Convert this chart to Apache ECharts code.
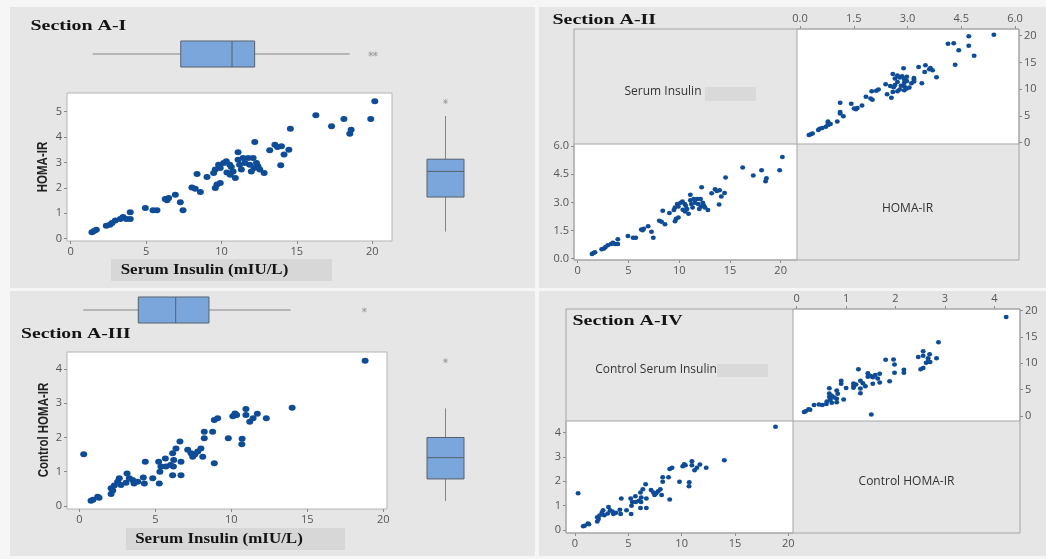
<!DOCTYPE html>
<html><head><meta charset="utf-8">
<script src="https://cdn.jsdelivr.net/npm/echarts@6/dist/echarts.min.js"></script>
<style>
html,body{margin:0;padding:0;background:#f6f6f6;}
.p{position:absolute;background:#e6e6e6;}
#c{position:absolute;left:0;top:0;width:1046px;height:559px;}
</style>
</head><body>
<div class="p" style="left:10px;top:7px;width:525px;height:281px"></div>
<div class="p" style="left:539px;top:7px;width:507px;height:281px"></div>
<div class="p" style="left:10px;top:291px;width:525px;height:265px"></div>
<div class="p" style="left:539px;top:291px;width:507px;height:265px"></div>
<div id="c"></div>
<script>
// ---------------- DATA ----------------
// Section A: [Serum Insulin (mIU/L), HOMA-IR]
const groupA = [[1.41,0.25],[1.55,0.30],[1.70,0.35],[2.36,0.51],[2.6,0.55],[2.74,0.62],[2.96,0.72],[3.29,0.78],[3.47,0.85],[3.69,0.78],[3.95,0.78],[3.95,1.04],[4.95,1.21],[5.46,1.12],[5.72,1.12],[6.27,1.56],[6.39,1.51],[6.5,1.6],[6.94,1.73],[7.27,1.43],[7.45,1.12],[8.04,2.02],[8.26,1.97],[8.38,2.55],[8.6,1.84],[9.04,2.43],[9.59,2.0],[9.7,2.13],[9.92,2.19],[9.48,2.59],[9.59,2.72],[9.81,2.91],[9.92,2.78],[10.14,2.98],[10.32,3.05],[10.36,2.61],[10.58,2.52],[10.55,2.91],[10.65,2.82],[10.77,2.65],[10.92,2.39],[11.1,3.40],[11.1,3.11],[11.2,2.91],[11.32,2.72],[11.43,3.18],[11.55,2.98],[11.77,3.18],[11.87,2.91],[11.98,2.65],[12.1,3.18],[12.16,2.78],[12.21,3.81],[12.32,2.98],[12.42,2.85],[12.54,2.72],[12.83,2.59],[13.2,3.48],[13.54,3.7],[13.71,3.61],[13.93,2.89],[13.98,3.64],[14.15,3.31],[14.47,3.5],[14.57,4.33],[16.26,4.86],[17.3,4.43],[18.12,4.71],[18.51,4.13],[18.6,4.29],[19.9,4.71],[20.17,5.41]];
// Control: [Serum Insulin (mIU/L), Control HOMA-IR]
const groupC = [[0.29,1.51],[0.77,0.15],[0.9,0.18],[1.21,0.27],[1.3,0.24],[2.09,0.35],[2.09,0.52],[2.2,0.45],[2.3,0.6],[2.52,0.71],[2.63,0.81],[2.74,0.61],[3.07,0.68],[3.14,0.95],[3.29,0.81],[3.51,0.76],[3.6,0.66],[3.84,0.71],[4.21,0.83],[4.28,0.66],[4.34,1.29],[4.83,0.81],[5.22,1.29],[5.26,0.66],[5.3,1.0],[5.37,1.15],[5.66,1.39],[5.7,1.15],[6.0,1.2],[6.14,1.54],[6.14,0.9],[6.19,1.15],[6.21,1.34],[6.36,1.68],[6.62,1.88],[6.69,1.29],[6.69,0.9],[7.13,1.64],[7.35,1.54],[7.46,1.44],[7.6,1.5],[7.79,1.59],[8.0,1.68],[8.12,1.44],[8.22,2.17],[8.22,1.98],[8.77,2.17],[8.88,2.51],[8.88,1.25],[9.1,2.56],[9.8,1.98],[10.1,2.62],[10.24,2.7],[10.35,2.66],[10.69,1.8],[10.71,1.96],[10.96,2.83],[10.96,2.66],[11.21,2.46],[11.43,2.56],[11.71,2.69],[12.3,2.56],[14.0,2.87],[18.8,4.24]];
// Box plot summaries [whisker low, Q1, median, Q3, whisker high] and outliers
const boxInsulinA = [1.45, 7.3, 10.7, 12.2, 18.5];
const outInsulinA = [19.9, 20.2];
const boxHomaA = [0.28, 1.64, 2.65, 3.13, 4.83];
const outHomaA = [5.4];
const boxInsulinC = [0.26, 3.88, 6.34, 8.53, 13.9];
const outInsulinC = [18.75];
const boxHomaC = [0.15, 0.79, 1.41, 2.0, 2.85];
const outHomaC = [4.24];
// Tick labels
const ticksInsulin = [0, 5, 10, 15, 20];
const ticksHomaA = [0, 1, 2, 3, 4, 5];
const ticksHomaM = [0, 1.5, 3, 4.5, 6];
const ticksHomaC = [0, 1, 2, 3, 4];

// ---------------- CHART ----------------
const chart = echarts.init(document.getElementById('c'));
const DOT = '#0f4c97';
const LBL = {color:'#555', fontSize:11, fontFamily:'Open Sans'};
const int = v => String(v);
const dec = v => v.toFixed(1);

function axis(grid, min, max, ticks, pos, fmt) {
  const a = {type:'value', gridIndex:grid, min, max, splitLine:{show:false}, axisLine:{show:false, onZero:false}};
  if (pos) a.position = pos;
  if (!ticks) { a.show = false; return a; }
  a.axisTick = {show:true, inside:false, length:3, lineStyle:{color:'#8a8a8a'}, customValues:ticks};
  a.axisLabel = Object.assign({show:true, margin:5, customValues:ticks, formatter:fmt||int}, LBL);
  return a;
}
const plotGrid = (left, top, width, height, border) => ({left, top, width, height, show:true, backgroundColor:'#fff', borderColor:border||'#b4b4b4', borderWidth:1, containLabel:false});
const boxGrid = (left, top, width, height) => ({left, top, width, height, show:false});

const grids = [
  plotGrid(67, 93, 325, 148),      // 0 A-I scatter
  boxGrid(67, 41, 325, 26),        // 1 A-I top box
  boxGrid(427, 93, 37, 148),       // 2 A-I right box
  plotGrid(797, 29, 222, 115, '#a5a5a5'), // 3 A-II TR
  plotGrid(574, 144, 223, 116, '#a5a5a5'),// 4 A-II BL
  plotGrid(67, 352, 320, 157),     // 5 A-III scatter
  boxGrid(67, 297, 320, 26),       // 6 A-III top box
  boxGrid(427, 352, 37, 157),      // 7 A-III right box
  plotGrid(793, 309, 227, 112, '#a5a5a5'),// 8 A-IV TR
  plotGrid(566, 421, 227, 112, '#a5a5a5') // 9 A-IV BL
];
const xAxes = [
  axis(0, -0.245, 21.31, ticksInsulin),
  axis(1, -0.245, 21.31, null),
  axis(2, 0, 1, null),
  axis(3, -0.084, 6.112, ticksHomaM, 'top', dec),
  axis(4, -0.365, 21.61, ticksInsulin),
  axis(5, -0.809, 20.24, ticksInsulin),
  axis(6, -0.809, 20.24, null),
  axis(7, 0, 1, null),
  axis(8, -0.075, 4.52, ticksHomaC, 'top'),
  axis(9, -0.844, 20.44, ticksInsulin)
];
const yAxes = [
  axis(0, -0.091, 5.736, ticksHomaA),
  axis(1, 0, 1, null),
  axis(2, -0.091, 5.736, null),
  axis(3, -0.25, 21.25, ticksInsulin, 'right'),
  axis(4, -0.069, 6.108, ticksHomaM, 'left', dec),
  axis(5, -0.088, 4.496, ticksHomaC),
  axis(6, 0, 1, null),
  axis(7, -0.088, 4.496, null),
  axis(8, -0.95, 20.32, ticksInsulin, 'right'),
  axis(9, -0.123, 4.48, ticksHomaC)
];

function boxRender(horizontal) {
  return function (params, api) {
    const cs = params.coordSys;
    const v = [0,1,2,3,4].map(i => api.value(i));
    const line = (x1,y1,x2,y2,c) => ({type:'line', shape:{x1,y1,x2,y2}, style:{stroke:c, lineWidth:1}});
    const WH = '#858585', BD = '#56606c';
    if (horizontal) {
      const p = t => api.coord([t, 0.5])[0];
      const yc = cs.y + cs.height/2, y0 = cs.y, y1 = cs.y + cs.height;
      return {type:'group', children:[
        line(p(v[0]), yc, p(v[1]), yc, WH),
        line(p(v[3]), yc, p(v[4]), yc, WH),
        {type:'rect', shape:{x:p(v[1]), y:y0, width:p(v[3])-p(v[1]), height:cs.height}, style:{fill:'#7aa6dc', stroke:BD, lineWidth:1}},
        line(p(v[2]), y0, p(v[2]), y1, BD)
      ]};
    } else {
      const p = t => api.coord([0.5, t])[1];
      const xc = cs.x + cs.width/2, x0 = cs.x, x1 = cs.x + cs.width;
      return {type:'group', children:[
        line(xc, p(v[0]), xc, p(v[1]), WH),
        line(xc, p(v[3]), xc, p(v[4]), WH),
        {type:'rect', shape:{x:x0, y:p(v[3]), width:cs.width, height:p(v[1])-p(v[3])}, style:{fill:'#7aa6dc', stroke:BD, lineWidth:1}},
        line(x0, p(v[2]), x1, p(v[2]), BD)
      ]};
    }
  };
}
const STAR = 'path://M4.4,0H5.6V10H4.4Z M0,4.4H10V5.6H0Z M1.3,0.5L9.5,8.7L8.7,9.5L0.5,1.3Z M8.7,0.5L9.5,1.3L1.3,9.5L0.5,8.7Z';
const sc = (gi, data, size) => ({type:'scatter', xAxisIndex:gi, yAxisIndex:gi, data, symbol:'circle', symbolSize:size, itemStyle:{color:DOT, opacity:1}, silent:true, animation:false});
const box = (gi, stats, horiz) => ({type:'custom', xAxisIndex:gi, yAxisIndex:gi, data:[stats], renderItem:boxRender(horiz), silent:true, animation:false});
const outl = (gi, pts) => ({type:'scatter', xAxisIndex:gi, yAxisIndex:gi, data:pts, symbol:STAR, symbolSize:5, itemStyle:{color:'#8c8c8c'}, silent:true, animation:false});
const swap = d => d.map(p => [p[1], p[0]]);

const series = [
  sc(0, groupA, [7, 6]),
  box(1, boxInsulinA, true), outl(1, outInsulinA.map(v => [v, 0.5])),
  box(2, boxHomaA, false), outl(2, outHomaA.map(v => [0.5, v])),
  sc(3, swap(groupA), [5, 4.5]),
  sc(4, groupA, [5, 4.5]),
  sc(5, groupC, [7, 6]),
  box(6, boxInsulinC, true), outl(6, outInsulinC.map(v => [v, 0.5])),
  box(7, boxHomaC, false), outl(7, outHomaC.map(v => [0.5, v])),
  sc(8, swap(groupC), [5, 4.5]),
  sc(9, groupC, [5, 4.5])
];

const TITLE = 'bold 15px "Liberation Serif"';
const XLAB = 'bold 15px "Liberation Serif"';
const YLAB = 'bold 11.5px "Liberation Sans"';
const CELL = '12px "Open Sans"';
function txt(x, y, text, font, o) {
  o = o || {};
  const al = o.align || 'left';
  return Object.assign({type:'text', x, y, z:50, silent:true,
    style:{text, font, fill:o.fill || '#141414', textAlign:al, align:al, textVerticalAlign:'middle', verticalAlign:'middle'}}, o.el || {});
}
const rect = (x, y, w, h, fill, stroke) => ({type:'rect', z:5, silent:true, shape:{x, y, width:w, height:h}, style:{fill:fill || 'none', stroke:stroke || null, lineWidth:1}});

const graphics = [
  // Section A-I
  txt(30.5, 26.5, 'Section A-I', TITLE, {el:{scaleX:1.33}}),
  rect(111, 259, 221, 22, '#d7d7d7'),
  txt(204.5, 270.5, 'Serum Insulin (mIU/L)', XLAB, {align:'center', el:{scaleX:1.13}}),
  txt(42.5, 167, 'HOMA-IR', YLAB, {align:'center', fill:'#222', el:{rotation:Math.PI/2, scaleY:1.3}}),
  // Section A-II
  txt(552.5, 20.5, 'Section A-II', TITLE, {el:{scaleX:1.33}}),
  rect(574, 29, 445, 231, 'none', '#a5a5a5'),
  txt(663, 92, 'Serum Insulin', CELL, {align:'center', fill:'#333'}),
  rect(705, 87, 51, 14, '#d9d9d9'),
  txt(907.5, 208.5, 'HOMA-IR', CELL, {align:'center', fill:'#333'}),
  // Section A-III
  txt(21, 334.5, 'Section A-III', TITLE, {el:{scaleX:1.31}}),
  rect(126, 528, 219, 22, '#d7d7d7'),
  txt(219, 539.5, 'Serum Insulin (mIU/L)', XLAB, {align:'center', el:{scaleX:1.13}}),
  txt(44, 430, 'Control HOMA-IR', YLAB, {align:'center', fill:'#222', el:{rotation:Math.PI/2, scaleY:1.3}}),
  // Section A-IV
  rect(566, 309, 454, 224, 'none', '#a5a5a5'),
  txt(572.5, 321, 'Section A-IV', TITLE, {el:{scaleX:1.33}}),
  txt(656, 370, 'Control Serum Insulin', CELL, {align:'center', fill:'#333'}),
  rect(717, 364, 51, 13, '#d9d9d9'),
  txt(906.5, 482, 'Control HOMA-IR', CELL, {align:'center', fill:'#333'})
];

chart.setOption({
  animation:false,
  grid:grids, xAxis:xAxes, yAxis:yAxes, series:series,
  graphic:{elements:graphics}
});
</script>
</body></html>
